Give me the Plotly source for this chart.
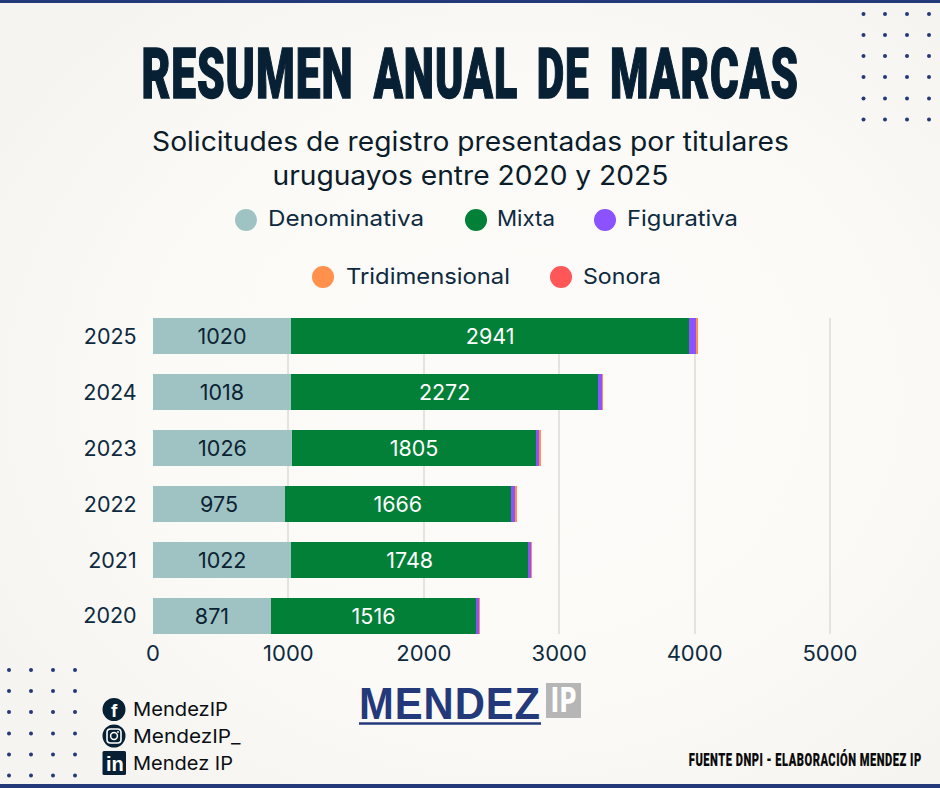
import base64
import json
import plotly.graph_objects as go

# Trademark filings by Uruguayan applicants, per year and mark type
years = ["2020", "2021", "2022", "2023", "2024", "2025"]
denominativa = [871, 1022, 975, 1026, 1018, 1020]
mixta = [1516, 1748, 1666, 1805, 2272, 2941]
figurativa = [27, 26, 30, 27, 30, 55]
tridimensional = [1, 1, 18, 8, 3, 3]
sonora = [0, 0, 0, 0, 0, 0]

series_names = ["Denominativa", "Mixta", "Figurativa", "Tridimensional", "Sonora"]
series_values = [denominativa, mixta, figurativa, tridimensional, sonora]
series_colors = ["#9fc3c3", "#038038", "#8c52ff", "#ff914d", "#ff5757"]
label_colors = ["#0b2233", "#ffffff", None, None, None]

title_words = ["RESUMEN", "ANUAL", "DE", "MARCAS"]
subtitle = "Solicitudes de registro presentadas por titulares<br>uruguayos entre 2020 y 2025"
handles = ["MendezIP", "MendezIP_", "Mendez IP"]
source_note = "FUENTE DNPI - ELABORACIÓN MENDEZ IP"

W, H = 940, 788
M_L, M_R, M_T, M_B = 153, 108, 318, 154
NAVY = "#23397a"
INK = "#082034"
BODY_FONT = "Inter"
HEAVY_FONT = "Roboto"
BAR_GAP = 0.355


# Page pixels to plot-area paper coordinates
def px(x):
    return (x - M_L) / (W - M_L - M_R)


def py(y):
    return 1 - (y - M_T) / (H - M_T - M_B)


def circle(cx, cy, r, color, line=None, lw=0):
    return dict(type="circle", xref="paper", yref="paper",
                x0=px(cx - r), x1=px(cx + r), y0=py(cy + r), y1=py(cy - r),
                fillcolor=color, line=dict(color=line or color, width=lw), layer="above")


def rect(x0, y0, x1, y1, color, line=None, lw=0):
    return dict(type="rect", xref="paper", yref="paper",
                x0=px(x0), x1=px(x1), y0=py(y1), y1=py(y0),
                fillcolor=color, line=dict(color=line or color, width=lw), layer="above")


def rounded_square(x0, y0, x1, y1, r):
    """SVG path in paper coordinates for a square with rounded corners."""
    pts = [
        f"M {px(x0 + r)} {py(y0)}", f"L {px(x1 - r)} {py(y0)}", f"Q {px(x1)} {py(y0)} {px(x1)} {py(y0 + r)}",
        f"L {px(x1)} {py(y1 - r)}", f"Q {px(x1)} {py(y1)} {px(x1 - r)} {py(y1)}",
        f"L {px(x0 + r)} {py(y1)}", f"Q {px(x0)} {py(y1)} {px(x0)} {py(y1 - r)}",
        f"L {px(x0)} {py(y0 + r)}", f"Q {px(x0)} {py(y0)} {px(x0 + r)} {py(y0)}", "Z",
    ]
    return " ".join(pts)


def label(x, y, text, size, color, family=BODY_FONT, anchor="left", weight=None):
    return dict(xref="paper", yref="paper", x=px(x), y=py(y), text=text, showarrow=False,
                xanchor=anchor, yanchor="middle", align="center",
                font=dict(size=size, color=color, family=family, weight=weight))


fig = go.Figure()
for name, values, color, text_color in zip(series_names, series_values, series_colors, label_colors):
    fig.add_bar(
        y=years, x=values, name=name, orientation="h",
        marker=dict(color=color, line=dict(width=0)),
        text=values if text_color else None,
        textposition="inside" if text_color else "none",
        insidetextanchor="middle", textangle=0,
        insidetextfont=dict(size=21.5, family=BODY_FONT, color=text_color or "#000"),
        showlegend=False,
    )

shapes = [rect(0, 0, W, 3, NAVY), rect(0, 784, W, H, NAVY)]

# Decorative dot grids in the corners
for cx in (863.5, 885, 907, 929):
    for cy in (14, 35, 56, 77, 98.5, 119.5):
        shapes.append(circle(cx, cy, 2, NAVY))
for cx in (9, 31, 53, 75):
    for cy in (670, 691, 712, 733.5, 754.5, 775.5):
        shapes.append(circle(cx, cy, 2, NAVY))

annotations = []

# Title, one word at a time for wide word spacing
for word, x in zip(title_words, (247.5, 445, 563, 704)):
    annotations.append(label(x, 74, word, 70, INK, HEAVY_FONT, "center", 900))
annotations.append(label(470, 158, subtitle, 26.5, "#0b1c2a", anchor="center"))

# Legend rows
legend_spots = [(246, 220, 266), (476, 220, 495), (605, 220, 625), (323, 277, 344), (561, 277, 581)]
for name, color, (cx, cy, tx) in zip(series_names, series_colors, legend_spots):
    shapes.append(circle(cx, cy, 11, color))
    annotations.append(label(tx, cy - 1.5, name, 22, "#0e2a3f"))

# Social handles with their small icons
for text, y in zip(handles, (709.5, 736, 763)):
    annotations.append(label(131, y, text, 19, "#0b0f14"))
shapes.append(circle(114, 709.5, 11.5, INK))
annotations.append(label(114.5, 710.5, "f", 19, "#ffffff", "Liberation Sans", "center", 700))
shapes.append(circle(114, 736, 11.5, INK))
shapes.append(dict(type="path", xref="paper", yref="paper", path=rounded_square(107, 729, 121, 743, 3.5),
                   fillcolor="rgba(0,0,0,0)", line=dict(color="#ffffff", width=1.6), layer="above"))
shapes.append(circle(114, 736, 3.4, INK, "#ffffff", 1.5))
shapes.append(circle(118, 732, 0.9, "#ffffff"))
shapes.append(dict(type="path", xref="paper", yref="paper", path=rounded_square(102.5, 751, 126, 775, 1.5),
                   fillcolor=INK, line=dict(color=INK, width=0), layer="above"))
annotations.append(label(114.5, 763.5, "in", 20, "#ffffff", "Liberation Sans", "center", 700))

# Wordmark
annotations.append(label(450, 703, "MENDEZ", 45, NAVY, "Liberation Sans", "center", 700))
shapes.append(rect(359, 722.3, 541, 724.7, NAVY))
shapes.append(rect(546, 683, 581, 718, "#b5b6b5"))
annotations.append(label(563.5, 700, "IP", 33, "#ffffff", "DejaVu Sans Condensed", "center", 700))

annotations.append(label(805.5, 759, source_note, 18, "#0a0a0a", HEAVY_FONT, "center", 900))

# Soft lighter centre on the page background
backdrop = f"""<svg xmlns='http://www.w3.org/2000/svg' width='{W}' height='{H}'>
<defs><radialGradient id='g' cx='55%' cy='50%' r='65%'>
<stop offset='0%' stop-color='#fcfbf9'/><stop offset='60%' stop-color='#fbfaf7'/><stop offset='100%' stop-color='#f6f4f0'/>
</radialGradient></defs><rect width='{W}' height='{H}' fill='url(#g)'/></svg>"""
backdrop_uri = "data:image/svg+xml;base64," + base64.b64encode(backdrop.encode()).decode()

half_bar = (1 - BAR_GAP) / 2
fig.update_layout(
    width=W, height=H, autosize=False,
    barmode="stack", bargap=BAR_GAP,
    margin=dict(l=M_L, r=M_R, t=M_T, b=M_B, pad=0),
    paper_bgcolor="#f9f7f4", plot_bgcolor="rgba(0,0,0,0)",
    xaxis=dict(range=[0, 5015], tickvals=[0, 1000, 2000, 3000, 4000, 5000],
               showgrid=True, gridcolor="#e4e3e0", gridwidth=1.5, zeroline=False,
               showline=False, ticks="", ticklen=0, ticklabelstandoff=4,
               tickfont=dict(size=22, family=BODY_FONT, color="#0e2a3f")),
    yaxis=dict(type="category", categoryorder="array", categoryarray=years,
               range=[-half_bar, len(years) - 1 + half_bar],
               showgrid=False, zeroline=False, showline=False, ticks="outside",
               ticklen=11, tickcolor="rgba(0,0,0,0)",
               tickfont=dict(size=21.5, family=BODY_FONT, color="#0e2a3f")),
    shapes=shapes, annotations=annotations,
    images=[dict(source=backdrop_uri, xref="paper", yref="paper", x=px(0), y=py(0),
                 sizex=px(W) - px(0), sizey=py(0) - py(H),
                 sizing="stretch", xanchor="left", yanchor="top", layer="below")],
)

# Text widths in page pixels: [width, pivot, letter spacing, stroke]
text_fits = {
    "RESUMEN": [212, "c", 1.5, 1.5], "ANUAL": [145, "c", 1.5, 1.5],
    "DE": [53, "c", 1.5, 1.5], "MARCAS": [189, "c", 1.5, 1.5],
    subtitle: [637, "c", 0, 0],
    "Denominativa": [156, "l", 0, 0], "Mixta": [58, "l", 0, 0], "Figurativa": [111, "l", 0, 0],
    "Tridimensional": [164, "l", 0, 0], "Sonora": [78, "l", 0, 0],
    "MendezIP": [95, "l", 0, 0], "MendezIP_": [108, "l", 0, 0], "Mendez IP": [100, "l", 0, 0],
    "MENDEZ": [182, "c", 1, 0], "IP": [26, "c", 0, 0],
    source_note: [233, "c", 0.8, 0.15],
}

# Brings each annotation to its set width by stretching it horizontally
fit_script = """
var fits = %s;
document.querySelectorAll('.annotation-text').forEach(function (t) {
  var rule = fits[t.getAttribute('data-unformatted')];
  if (!rule) return;
  if (rule[2]) t.style.letterSpacing = rule[2] + 'px';
  var b = t.getBBox();
  var pivot = rule[1] === 'c' ? b.x + b.width / 2 : b.x;
  var k = rule[0] / b.width;
  t.setAttribute('transform', 'translate(' + pivot + ' 0) scale(' + k + ' 1) translate(' + (-pivot) + ' 0)');
  if (rule[3]) { t.style.stroke = t.style.fill; t.style.strokeWidth = rule[3] + 'px'; }
});
""" % json.dumps(text_fits, ensure_ascii=False)

fig.write_html("out.html", post_script=fit_script)
